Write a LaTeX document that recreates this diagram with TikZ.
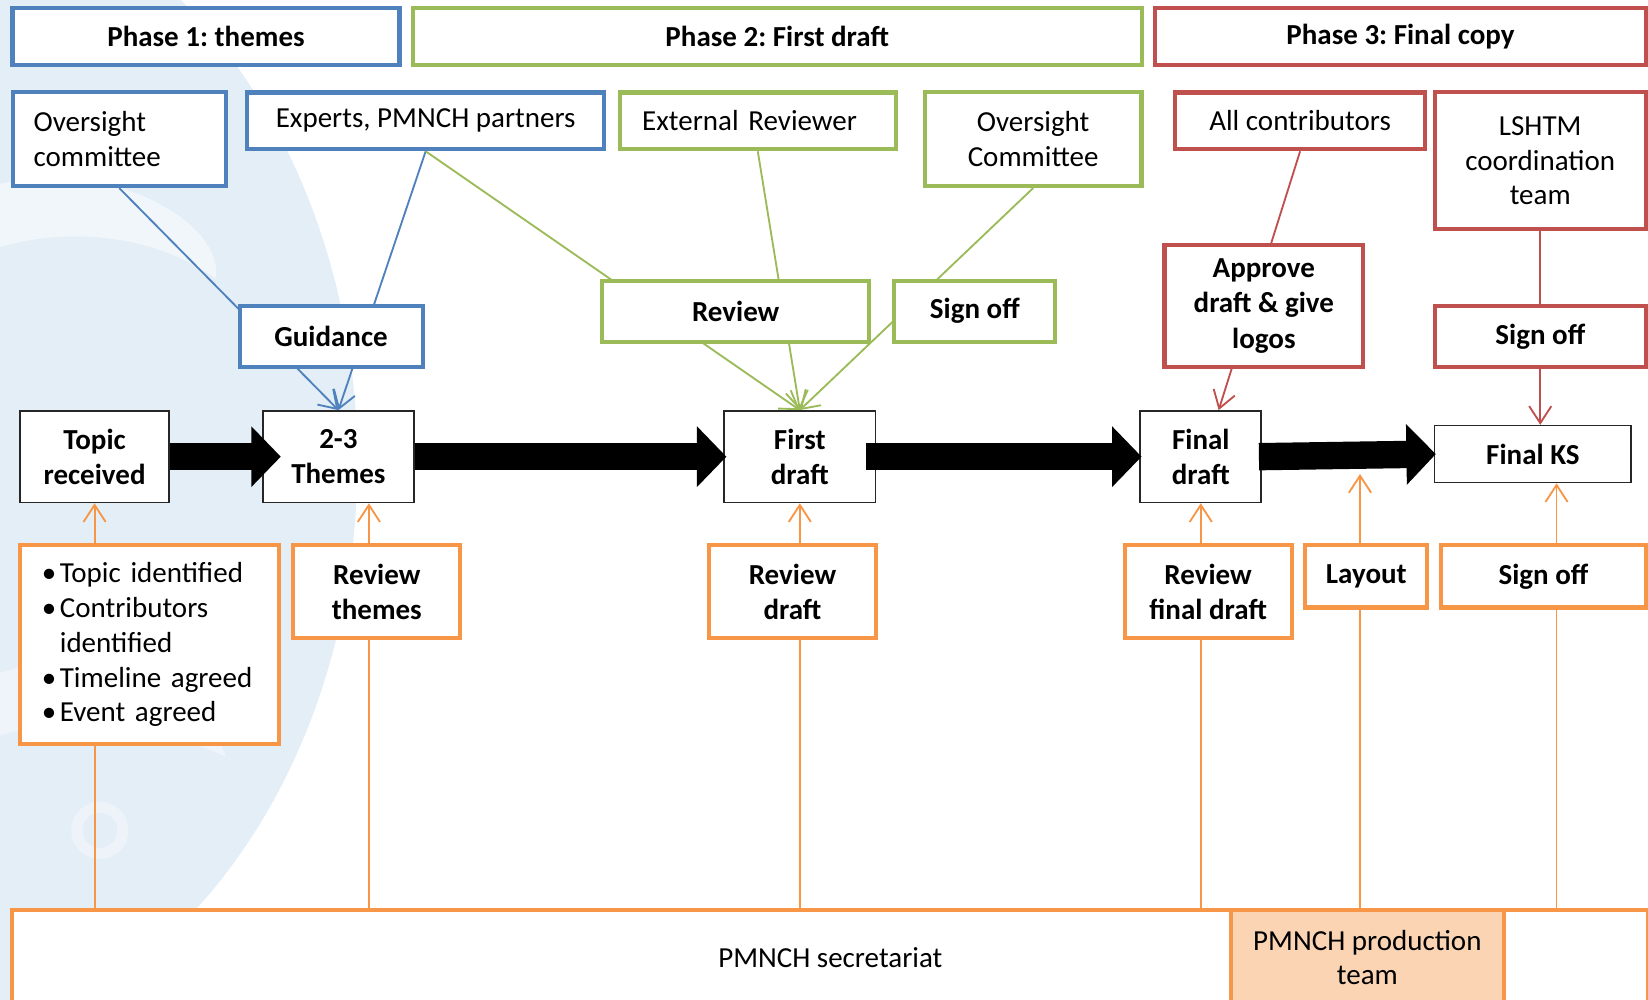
\documentclass[tikz,border=0pt]{standalone}
\usepackage{fontspec}
\setmainfont{Carlito}
\usetikzlibrary{arrows.meta,calc}
\definecolor{cblue}{RGB}{79,129,189}
\definecolor{cgreen}{RGB}{155,187,89}
\definecolor{cred}{RGB}{192,80,77}
\definecolor{corange}{RGB}{247,150,70}
\definecolor{cpeach}{RGB}{251,212,180}
\definecolor{wmblue}{RGB}{228,238,246}
\pgfdeclarelayer{bg}
\pgfdeclarelayer{lines}
\pgfsetlayers{bg,lines,main}
\begin{document}
\frenchspacing
\begin{tikzpicture}[x=0.01cm,y=-0.01cm,
  font={\fontsize{7.85}{9.4}\selectfont},
  cbox/.style={draw, fill=white, line width=1.1pt, inner sep=0pt, align=center},
  bluebox/.style={cbox, draw=cblue},
  greenbox/.style={cbox, draw=cgreen},
  redbox/.style={cbox, draw=cred},
  orangebox/.style={cbox, draw=corange},
  bold/.style={font={\fontsize{7.85}{9.6}\selectfont\bfseries}},
  kbox/.style={draw=black!85, fill=white, line width=0.45pt, inner sep=0pt, align=center, bold},
  conn/.style={line width=0.5pt, -{Straight Barb[length=4.6pt,width=6pt]}},
  bigarrow/.style={line width=0.26cm, -{Triangle[length=0.28cm,width=0.56cm]}}
]
\useasboundingbox (0,0) rectangle (1568,951);

% watermark
\begin{pgfonlayer}{bg}
  \fill[wmblue] (-100,440) ellipse [x radius=440, y radius=560];
  \fill[white, opacity=0.5] (0,175) .. controls (110,150) and (215,215) .. (205,265)
     .. controls (150,225) and (70,215) .. (0,235) -- cycle;
  \fill[white, opacity=0.4] (0,640) .. controls (90,610) and (190,650) .. (215,720)
     .. controls (150,690) and (60,680) .. (0,700) -- cycle;
  \draw[white, opacity=0.35, line width=3pt] (95,790) circle [radius=22];
\end{pgfonlayer}

% phase headers
\node[bluebox, bold, minimum width=3.68cm, minimum height=0.54cm] (p1) at (196,35) {Phase 1: themes};
\node[greenbox, bold, minimum width=6.93cm, minimum height=0.54cm] (p2) at (739.5,35) {Phase 2: First draft};
\node[redbox, bold, minimum width=4.67cm, minimum height=0.54cm] (p3) at (1332.5,35) {Phase 3: Final copy};

% row 2: actors
\node[bluebox, align=left, text width=1.63cm, minimum width=2.03cm, minimum height=0.89cm] (oc1) at (113.5,132.5) {Oversight\\committee};
\node[bluebox, minimum width=3.40cm, minimum height=0.54cm] (exp) at (405,115) {Experts, PMNCH partners};
\node[greenbox, align=left, text width=2.20cm, minimum width=2.62cm, minimum height=0.54cm] (ext) at (721,115) {External Reviewer};
\node[greenbox, minimum width=2.06cm, minimum height=0.89cm] (oc2) at (983,132.5) {Oversight\\Committee};
\node[redbox, minimum width=2.38cm, minimum height=0.54cm] (allc) at (1237,115) {All contributors};
\node[redbox, minimum width=2.01cm, minimum height=1.30cm] (lshtm) at (1465.5,153) {LSHTM\\coordination\\team};

% main row
\node[kbox, minimum width=1.42cm, minimum height=0.87cm] (topic) at (90,434.5) {Topic\\received};
\node[kbox, minimum width=1.44cm, minimum height=0.87cm] (themes) at (322,434.5) {2-3\\Themes};
\node[kbox, minimum width=1.44cm, minimum height=0.87cm] (fd) at (761,434.5) {First\\draft};
\node[kbox, minimum width=1.15cm, minimum height=0.87cm] (fin) at (1142.5,434.5) {Final\\draft};
\node[kbox, minimum width=1.87cm, minimum height=0.54cm] (ks) at (1458.5,432) {Final KS};

% bottom bar
\node[orangebox, minimum width=15.56cm, minimum height=0.90cm] (sec) at (790,911) {PMNCH secretariat};
\node[orangebox, fill=cpeach, minimum width=2.60cm, minimum height=0.90cm] (prod) at (1301,911) {PMNCH production\\team};

% connectors (behind labels)
\coordinate (finin) at ($(fin.north)+(17,0)$);
\coordinate (thin) at ($(themes.south)+(29,0)$);
\coordinate (ksin) at ($(ks.south)+(22.5,0)$);
\coordinate (layt) at (1294,451);
\begin{pgfonlayer}{lines}
  \draw[conn, cblue] (oc1.south) -- (themes.north);
  \draw[conn, cblue] (exp.south) -- (themes.north);
  \draw[conn, cgreen] (exp.south) -- (fd.north);
  \draw[conn, cgreen] (ext.south) -- (fd.north);
  \draw[conn, cgreen] (oc2.south) -- (fd.north);
  \draw[conn, cred] (allc.south) -- (finin);
  \draw[conn, cred] (lshtm.south) -- (lshtm.south |- ks.north);
  \draw[conn, corange] (sec.north -| topic.south) -- (topic.south);
  \draw[conn, corange] (sec.north -| thin) -- (thin);
  \draw[conn, corange] (sec.north -| fd.south) -- (fd.south);
  \draw[conn, corange] (sec.north -| fin.south) -- (fin.south);
  \draw[conn, corange] (sec.north -| layt) -- (layt);
  \draw[conn, corange] (sec.north -| ksin) -- (ksin);
\end{pgfonlayer}

% row 3: activity labels on connectors
\node[bluebox, bold, minimum width=1.74cm, minimum height=0.58cm] (guid) at (315,320) {Guidance};
\node[greenbox, bold, minimum width=2.54cm, minimum height=0.58cm] (rev) at (700,296) {Review};
\node[greenbox, bold, minimum width=1.53cm, minimum height=0.58cm] (so1) at (927.5,296) {Sign off};
\node[redbox, bold, minimum width=1.89cm, minimum height=1.16cm] (appr) at (1202.5,291) {Approve\\draft \& give\\logos};
\node[redbox, bold, minimum width=2.01cm, minimum height=0.58cm] (so2) at (1465.5,320) {Sign off};

% orange activity boxes
\node[orangebox, align=left, text width=2.04cm, minimum width=2.46cm, minimum height=1.89cm] (bul) at (142,613.5)
  {\makebox[0.17cm][l]{•}Topic identified\\
   \makebox[0.17cm][l]{•}Contributors\\
   \makebox[0.17cm][l]{}identified\\
   \makebox[0.17cm][l]{•}Timeline agreed\\
   \makebox[0.17cm][l]{•}Event agreed};
\node[orangebox, bold, minimum width=1.59cm, minimum height=0.88cm] (rt) at (358.5,563) {Review\\themes};
\node[orangebox, bold, minimum width=1.58cm, minimum height=0.88cm] (rd) at (754,563) {Review\\draft};
\node[orangebox, bold, minimum width=1.59cm, minimum height=0.88cm] (rfd) at (1149.5,563) {Review\\final draft};
\node[orangebox, bold, minimum width=1.16cm, minimum height=0.59cm] (lay) at (1300,548.5) {Layout};
\node[orangebox, bold, minimum width=1.95cm, minimum height=0.59cm] (so3) at (1468.5,548.5) {Sign off};

% thick process arrows
\draw[bigarrow] (topic.east) -- ($(themes.west)+(18,0)$);
\draw[bigarrow] (themes.east) -- ($(fd.west)+(3,0)$);
\draw[bigarrow] ($(fd.east)+(-10,0)$) -- ($(fin.west)+(2,0)$);
\draw[bigarrow] ($(fin.east)+(-3,0)$) -- ($(ks.west)+(2,0)$);
\end{tikzpicture}
\end{document}
